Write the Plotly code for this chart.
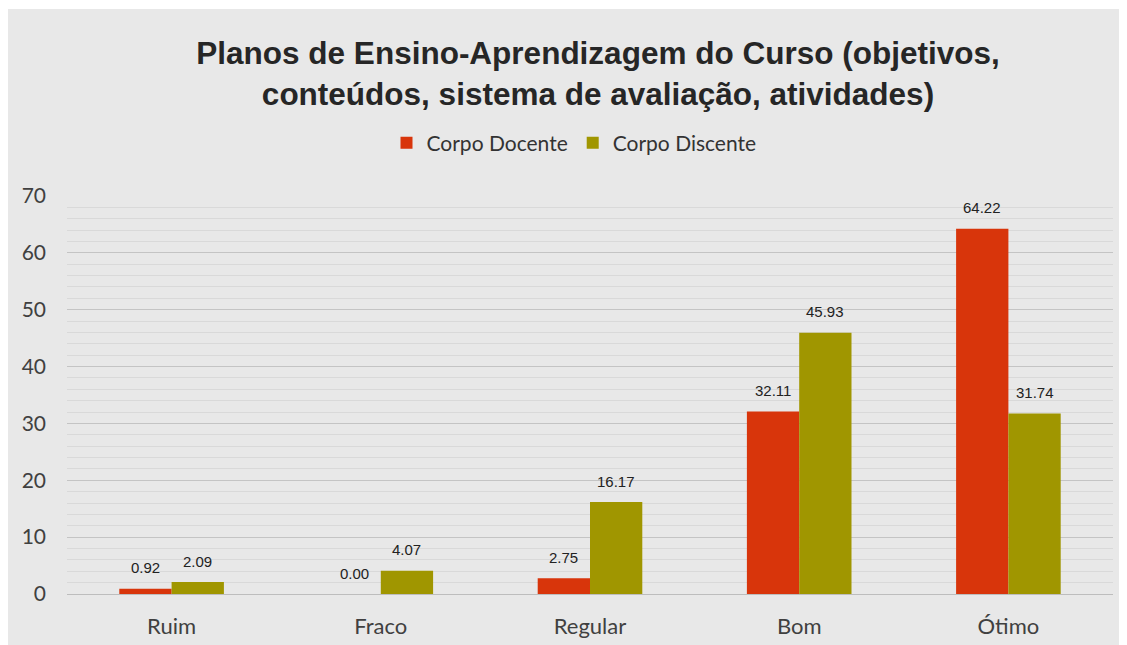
import plotly.graph_objects as go

categories = ["Ruim", "Fraco", "Regular", "Bom", "Ótimo"]
docente = [0.92, 0.00, 2.75, 32.11, 64.22]
discente = [2.09, 4.07, 16.17, 45.93, 31.74]
series_names = ["Corpo Docente", "Corpo Discente"]
title_text = "Planos de Ensino-Aprendizagem do Curso (objetivos,<br>conteúdos, sistema de avaliação, atividades)"

RED = "#D8350B"
OLIVE = "#A09600"

# page body adds an 8px margin, so the figure is sized accordingly
W, H = 1119, 637
ml, mr, mt, mb = 59, 14, 188, 51
pw, ph = W - ml - mr, H - mt - mb

fig = go.Figure()
fig.add_trace(go.Bar(name=series_names[0], x=categories, y=docente, marker_color=RED,
                     marker_line_width=0))
fig.add_trace(go.Bar(name=series_names[1], x=categories, y=discente, marker_color=OLIVE,
                     marker_line_width=0))

annotations = []
for i, c in enumerate(categories):
    for vals, shift in ((docente, -0.125), (discente, 0.125)):
        annotations.append(dict(
            x=i + shift, y=vals[i], xref="x", yref="y", text=f"{vals[i]:.2f}",
            showarrow=False, yshift=21,
            font=dict(family="Liberation Sans, Arial", size=15, color="#222222")))

# grey background panel
fig.add_shape(type="rect", xref="paper", yref="paper", layer="below",
              x0=(-2 - ml) / pw, x1=(1112 - ml) / pw,
              y0=-(H - (mt + ph)) / ph - 0.01, y1=(mt + ph - 1) / ph,
              fillcolor="#E8E8E8", line_width=0)

fig.update_layout(
    width=W, height=H,
    margin=dict(l=ml, r=mr, t=mt, b=mb),
    paper_bgcolor="white", plot_bgcolor="rgba(0,0,0,0)",
    barmode="group", bargap=0.5, bargroupgap=0,
    title=dict(text=title_text, x=590 / W, xanchor="center", y=1 - 56 / H, yanchor="middle",
               font=dict(family="Liberation Sans, Arial", size=31.5, color="#262626", weight="bold")),
    legend=dict(orientation="h", x=(566 - ml) / pw, xanchor="center", y=(586 - 135) / ph, yanchor="middle",
                font=dict(family="Lato, Open Sans", size=21, color="#333333"),
                bgcolor="rgba(0,0,0,0)", itemwidth=30, traceorder="normal"),
    annotations=annotations,
    xaxis=dict(tickfont=dict(family="Lato, Open Sans", size=22, color="#404040"),
               showline=False, ticks="", range=[-0.5, 4.5], ticklabelstandoff=17,
               automargin=False),
    yaxis=dict(range=[0, 70], dtick=10, tick0=0,
               tickfont=dict(family="Lato, Open Sans", size=21, color="#404040"),
               showgrid=True, gridcolor="#C4C4C4", gridwidth=1,
               zeroline=True, zerolinecolor="#BDBDBD", zerolinewidth=1,
               ticklabelstandoff=20, automargin=False,
               minor=dict(dtick=2, showgrid=True, gridcolor="#D9D9D9", gridwidth=1)),
)

fig.write_html("out.html")
